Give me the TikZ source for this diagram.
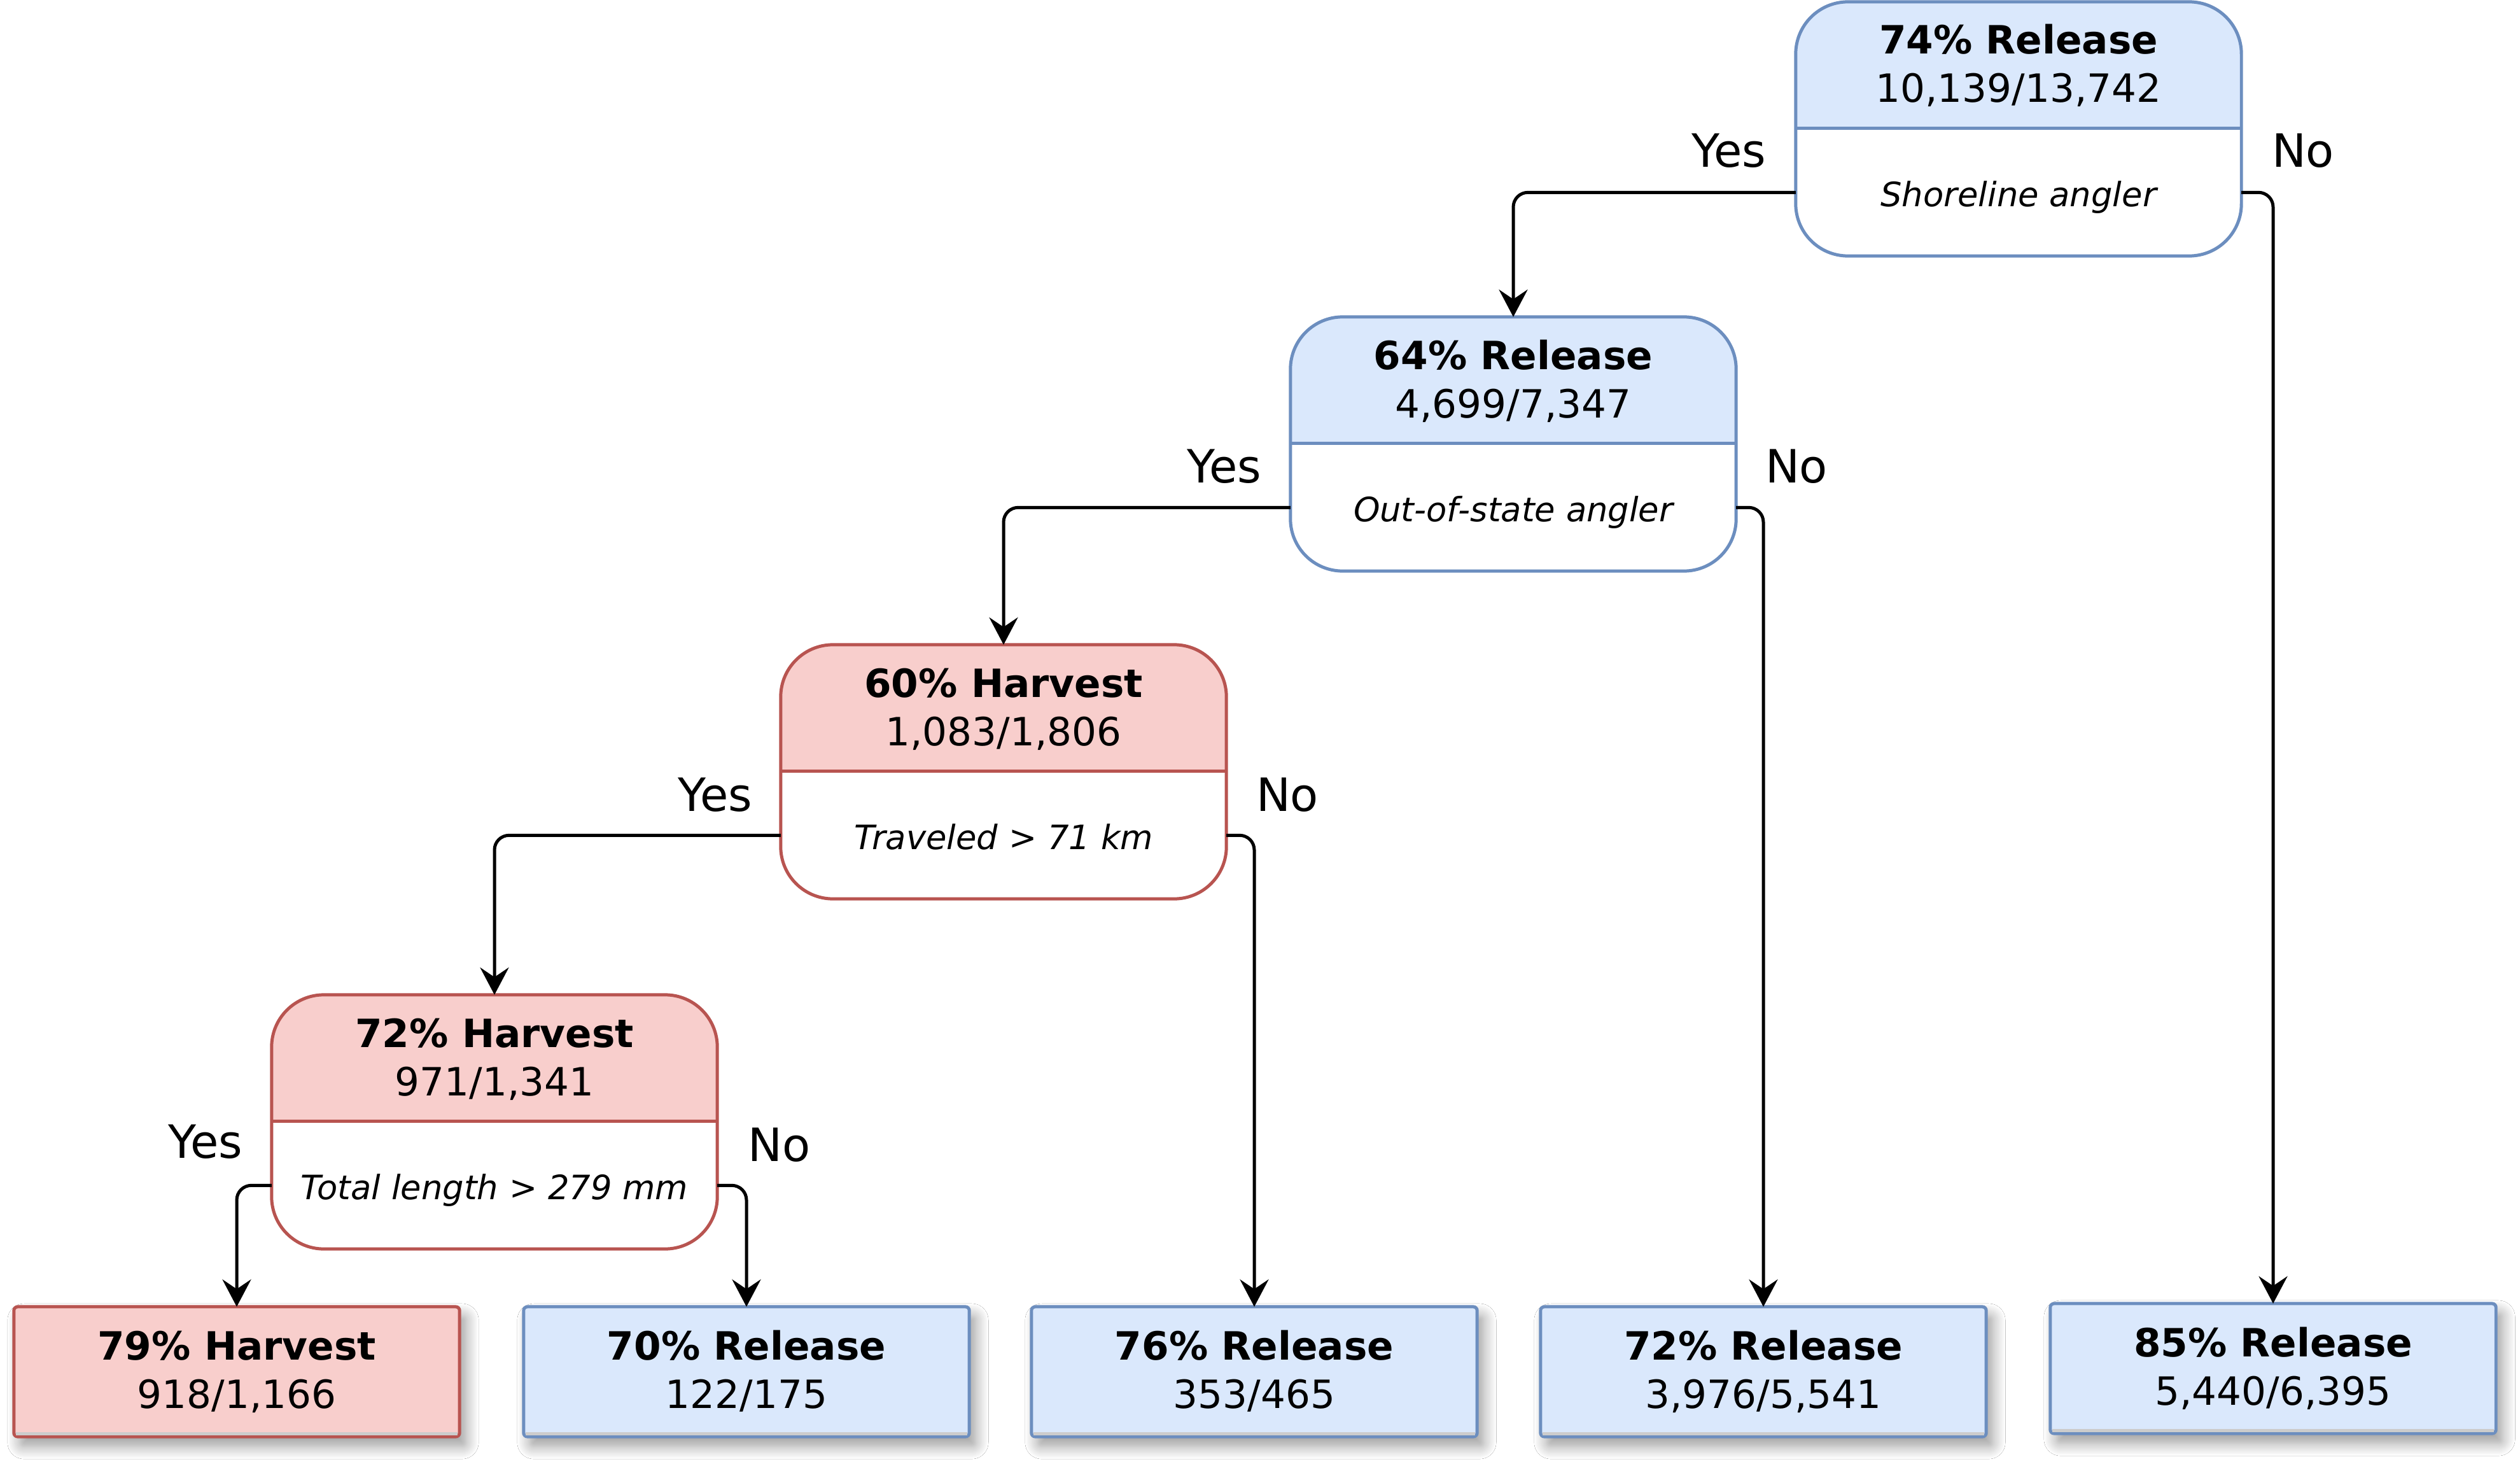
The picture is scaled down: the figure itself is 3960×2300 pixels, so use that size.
\documentclass[tikz,border=0pt]{standalone}
\usepackage{fontspec}
\setmainfont{DejaVu Sans}
\usetikzlibrary{arrows.meta,shadows.blur,calc}
\definecolor{bluefill}{HTML}{DAE8FC}
\definecolor{blueline}{HTML}{6C8EBF}
\definecolor{redfill}{HTML}{F8CECC}
\definecolor{redline}{HTML}{B85450}
\tikzset{
 hdr/.style={font=\fontsize{17.4}{20}\selectfont\bfseries, inner sep=0pt, anchor=base},
 cnt/.style={font=\fontsize{17.4}{20}\selectfont, inner sep=0pt, anchor=base},
 cond/.style={font=\fontsize{15}{18}\selectfont\itshape, inner sep=0pt, anchor=base},
 yn/.style={font=\fontsize{20.5}{24}\selectfont, inner sep=0pt, anchor=base},
 box/.style={minimum width=7cm, minimum height=3.99cm, inner sep=0pt, outer sep=0pt},
 leafbox/.style={draw, line width=1.42pt, rounded corners=0.06cm, minimum width=7cm, minimum height=2.04cm, inner sep=0pt, outer sep=0pt,
   blur shadow={shadow xshift=1mm, shadow yshift=-1.5mm, shadow opacity=40, shadow blur radius=2mm, shadow blur steps=12}},
 conn/.style={draw, line width=1.42pt, rounded corners=0.23cm, -{Stealth[length=12.2pt,width=12.8pt,inset=4.3pt]}},
}
\newcommand\decnode[8]{%
 \node[box] (#1) at (#2,#3+199.5) {};
 \begin{scope}
  \clip[rounded corners=0.82cm] (#1.south west) rectangle (#1.north east);
  \fill[white] (#1.south west) rectangle (#1.north east);
  \fill[#4] (#1.north west) rectangle ($(#1.north east)+(0,199)$);
 \end{scope}
 \draw[#5, line width=1.42pt] ($(#1.north west)+(0,199)$) -- ($(#1.north east)+(0,199)$);
 \draw[#5, line width=1.42pt, rounded corners=0.82cm] (#1.south west) rectangle (#1.north east);
 \node[hdr] at (#2,#3+82) {#6};
 \node[cnt] at (#2,#3+158) {#7};
 \node[cond] at (#2,#3+321) {#8};
}
\newcommand\leafnode[7]{%
 \node[leafbox, draw=#5, fill=#4] (#1) at (#2,#3+102) {};
 \fill[black!20] ($(#1.south west)+(3,-7)$) rectangle ($(#1.south east)+(-3,-2.5)$);
 \node[hdr] at (#2,#3+83) {#6};
 \node[cnt] at (#2,#3+159) {#7};
}
\begin{document}
\begin{tikzpicture}[x=0.01cm,y=-0.01cm]
\useasboundingbox (0,0) rectangle (3960,2300);
\fill[white] (0,0) rectangle (3960,2300);

\decnode{n1}{3172}{3}{bluefill}{blueline}{74\% Release}{10,139/13,742}{Shoreline angler}
\decnode{n2}{2378}{498}{bluefill}{blueline}{64\% Release}{4,699/7,347}{Out-of-state angler}
\decnode{n3}{1577}{1013}{redfill}{redline}{60\% Harvest}{1,083/1,806}{Traveled > 71 km}
\decnode{n4}{777}{1563}{redfill}{redline}{72\% Harvest}{971/1,341}{Total length > 279 mm}

\leafnode{l1}{372}{2053}{redfill}{redline}{79\% Harvest}{918/1,166}
\leafnode{l2}{1173}{2053}{bluefill}{blueline}{70\% Release}{122/175}
\leafnode{l3}{1971}{2053}{bluefill}{blueline}{76\% Release}{353/465}
\leafnode{l4}{2771}{2053}{bluefill}{blueline}{72\% Release}{3,976/5,541}
\leafnode{l5}{3572}{2048}{bluefill}{blueline}{85\% Release}{5,440/6,395}

\foreach \n in {n1,n2,n3,n4}{
 \coordinate (\n y) at ($(\n.west)!0.5!(\n.south west)$);
 \coordinate (\n n) at ($(\n.east)!0.5!(\n.south east)$);
}

\draw[conn] (n1y) -| (n2.north);
\draw[conn] (n1n) -| (l5.north);
\draw[conn] (n2y) -| (n3.north);
\draw[conn] (n2n) -| (l4.north);
\draw[conn] (n3y) -| (n4.north);
\draw[conn] (n3n) -| (l3.north);
\draw[conn] (n4y) -| (l1.north);
\draw[conn] (n4n) -| (l2.north);

\node[yn] (y1) at (2717,263) {Yes};
\node[yn] (x1) at (3619,263) {No};
\node[yn] (y2) at (1924,758) {Yes};
\node[yn] (x2) at (2823,758) {No};
\node[yn] (y3) at (1124,1274) {Yes};
\node[yn] (x3) at (2023,1274) {No};
\node[yn] (y4) at (323,1819) {Yes};
\node[yn] (x4) at (1225,1824) {No};
\end{tikzpicture}
\end{document}
